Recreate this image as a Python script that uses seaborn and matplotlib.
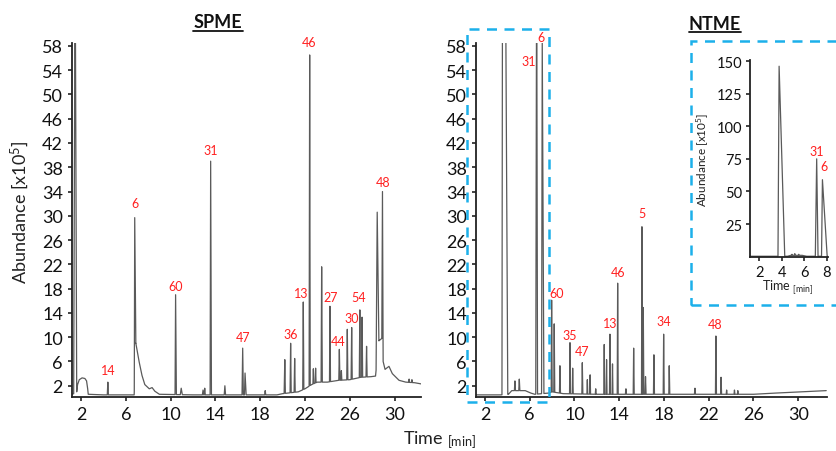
import numpy as np
import pandas as pd
import seaborn as sns
import matplotlib.pyplot as plt
from matplotlib.patches import Rectangle
from matplotlib.lines import Line2D

# ---- SPME chromatogram (time in min, abundance x10^5) ----
spme_base_t = [1.2, 1.35, 1.62, 1.7, 1.85, 2.1, 2.35, 2.5, 2.6, 2.65, 4.0, 6.75, 6.9, 7.2, 7.45,
               7.7, 8.1, 8.35, 8.6, 9.0, 12.0, 19.5, 20.0, 21.4, 22.0, 22.6, 23.1, 24.0, 25.0,
               26.0, 27.0, 27.9, 28.3, 28.6, 28.86, 28.98, 29.15, 29.5, 29.8, 30.4, 31.0, 31.8, 32.4]
spme_base_v = [0.6, 0.7, 1.0, 2.2, 3.0, 3.3, 3.2, 2.8, 1.5, 0.6, 0.5, 0.5, 9.0, 5.9, 3.7,
               2.2, 1.5, 1.7, 1.1, 0.6, 0.5, 0.5, 0.7, 1.0, 1.5, 2.2, 2.6, 2.6, 2.9,
               3.0, 3.4, 3.5, 3.6, 9.4, 9.8, 6.0, 4.7, 5.2, 4.0, 2.9, 2.6, 2.5, 2.3]
spme_peak_t = [1.48, 4.4, 6.8, 10.45, 10.95, 12.9, 13.05, 13.58, 14.85, 16.44, 16.65, 18.45,
               20.2, 20.72, 21.08, 21.85, 22.42, 22.75, 22.95, 23.49, 24.23, 25.07, 25.25,
               25.78, 26.17, 26.9, 27.1, 27.5, 28.45, 28.92, 31.3, 31.55]
spme_peak_h = [75.0, 2.6, 29.7, 17.0, 1.6, 1.3, 1.6, 39.0, 2.0, 8.2, 4.1, 1.2,
               6.3, 9.0, 6.5, 15.8, 56.5, 4.8, 4.9, 21.6, 15.1, 8.0, 4.5,
               11.3, 11.6, 14.5, 13.3, 8.5, 30.6, 34.0, 3.1, 3.0]
spme_peak_wl = [0.13, 0.05, 0.04, 0.05, 0.08, 0.06, 0.05, 0.05, 0.06, 0.06, 0.05, 0.05,
                0.06, 0.05, 0.05, 0.05, 0.05, 0.04, 0.04, 0.05, 0.04, 0.05, 0.04,
                0.05, 0.05, 0.05, 0.04, 0.05, 0.1, 0.06, 0.04, 0.04]
spme_peak_wr = [0.14, 0.05, 0.1, 0.07, 0.1, 0.06, 0.05, 0.07, 0.06, 0.06, 0.1, 0.05,
                0.05, 0.05, 0.05, 0.05, 0.05, 0.04, 0.04, 0.06, 0.05, 0.05, 0.04,
                0.05, 0.05, 0.04, 0.05, 0.05, 0.15, 0.06, 0.04, 0.04]
spme_lab = ['14', '6', '60', '31', '47', '36', '13', '46', '27', '44', '30', '54', '48']
spme_lab_t = [4.44, 6.82, 10.48, 13.6, 16.5, 20.75, 21.7, 22.36, 24.3, 25.0, 26.2, 26.8, 28.99]
spme_lab_v = [4.6, 32.1, 18.5, 40.8, 10.1, 10.5, 17.3, 58.6, 16.6, 9.4, 13.1, 16.6, 35.5]

# ---- NTME chromatogram ----
ntme_base_t = [1.2, 3.4, 4.1, 4.4, 5.6, 6.1, 6.45, 7.7, 8.0, 9.0, 12.0, 20.0, 26.0, 28.0, 32.5]
ntme_base_v = [0.5, 0.5, 0.6, 1.2, 1.2, 0.8, 0.6, 0.8, 1.0, 0.7, 0.6, 0.6, 0.6, 0.8, 1.2]
ntme_peak_t = [3.62, 4.68, 5.07, 6.62, 7.12, 7.96, 8.19, 8.7, 9.6, 9.84, 10.7, 11.15, 11.4,
               11.9, 12.66, 12.87, 13.17, 13.4, 13.86, 14.6, 15.29, 16.03, 16.15, 16.35,
               17.1, 17.97, 18.47, 20.77, 22.64, 23.1, 23.6, 24.3, 24.6]
ntme_peak_h = [146.0, 2.8, 3.1, 75.0, 59.0, 16.1, 12.2, 5.3, 9.1, 4.9, 5.8, 3.0, 3.8,
               1.5, 8.8, 6.3, 10.5, 5.6, 18.9, 1.5, 8.2, 28.2, 14.9, 3.5,
               7.1, 10.5, 5.3, 1.6, 10.2, 3.4, 1.3, 1.3, 1.2]
ntme_peak_wl = [0.1, 0.05, 0.05, 0.08, 0.06, 0.04, 0.04, 0.04, 0.04, 0.04, 0.04, 0.04, 0.04,
                0.04, 0.04, 0.04, 0.04, 0.04, 0.04, 0.05, 0.04, 0.04, 0.04, 0.04,
                0.04, 0.04, 0.04, 0.05, 0.04, 0.04, 0.04, 0.04, 0.04]
ntme_peak_wr = [0.42, 0.05, 0.05, 0.08, 0.15, 0.05, 0.05, 0.05, 0.04, 0.05, 0.05, 0.04, 0.04,
                0.04, 0.04, 0.04, 0.04, 0.04, 0.05, 0.05, 0.05, 0.04, 0.05, 0.05,
                0.05, 0.05, 0.05, 0.05, 0.05, 0.05, 0.04, 0.04, 0.04]
ntme_lab = ['31', '6', '60', '35', '47', '13', '46', '5', '34', '48']
ntme_lab_t = [5.87, 6.98, 8.4, 9.6, 10.7, 13.17, 13.9, 16.0, 18.0, 22.55]
ntme_lab_v = [55.5, 59.4, 17.3, 10.35, 7.8, 12.4, 20.7, 30.4, 12.7, 12.25]

# ---- NTME inset (0-8 min) ----
ins_base_t = [1.2, 4.5, 4.8, 5.8, 6.2, 8.12]
ins_base_v = [0.3, 0.3, 1.0, 1.0, 0.3, 0.3]
ins_peak_t = [3.76, 4.9, 5.15, 5.5, 7.09, 7.6]
ins_peak_h = [146.0, 1.8, 2.3, 1.8, 75.0, 59.0]
ins_peak_wl = [0.1, 0.05, 0.05, 0.05, 0.12, 0.08]
ins_peak_wr = [0.5, 0.05, 0.05, 0.05, 0.12, 0.42]
ins_lab = ['31', '6']
ins_lab_t = [7.09, 7.77]
ins_lab_v = [80.7, 69.2]


def trace(bt, bv, pt, ph, wl, wr):
    t, v = [], []
    spans = [(a - l, a + r) for a, l, r in zip(pt, wl, wr)]
    for x, y in zip(bt, bv):
        if not any(lo < x < hi for lo, hi in spans):
            t.append(x)
            v.append(y)
    for a, h, l, r in zip(pt, ph, wl, wr):
        for x in (a - l, a + r):
            t.append(x)
            v.append(float(np.interp(x, bt, bv)))
        t.append(a)
        v.append(h)
    return pd.DataFrame({'t': t, 'v': v}).sort_values('t')


sns.set_theme(style='ticks')
plt.rcParams['font.family'] = ['Lato', 'DejaVu Sans']
plt.rcParams['mathtext.fontset'] = 'custom'
plt.rcParams['mathtext.rm'] = 'Lato'
plt.rcParams['mathtext.it'] = 'Lato:italic'
plt.rcParams['mathtext.bf'] = 'Lato:bold'

W, H = 836, 452
fig = plt.figure(figsize=(W / 100, H / 100), dpi=100)
fig.patch.set_facecolor('white')

line_c = '#5a5a5a'
red = '#ff2020'
blue = '#1cb0ea'


def style(ax, fs):
    sns.despine(ax=ax)
    for s in ('left', 'bottom'):
        ax.spines[s].set_linewidth(1.3)
        ax.spines[s].set_color('#222222')
    ax.tick_params(direction='out', length=3, width=1.2, pad=3.5, labelsize=fs,
                   colors='#222222', labelcolor='#111111')
    ax.set_xlabel('')
    ax.set_ylabel('')
    ax.set_facecolor('white')


ax1 = fig.add_axes([72 / W, 1 - 397.7 / H, 349 / W, 353.7 / H])
ax2 = fig.add_axes([476 / W, 1 - 397.7 / H, 351 / W, 353.7 / H])

for ax, d, labs, lt, lv, xr in [
        (ax1, trace(spme_base_t, spme_base_v, spme_peak_t, spme_peak_h, spme_peak_wl, spme_peak_wr),
         spme_lab, spme_lab_t, spme_lab_v, (1.2, 32.36)),
        (ax2, trace(ntme_base_t, ntme_base_v, ntme_peak_t, ntme_peak_h, ntme_peak_wl, ntme_peak_wr),
         ntme_lab, ntme_lab_t, ntme_lab_v, (1.2, 32.57))]:
    sns.lineplot(data=d, x='t', y='v', ax=ax, color=line_c, linewidth=0.9,
                 estimator=None, sort=False)
    ax.set_xlim(*xr)
    ax.set_ylim(0.2, 58.47)
    ax.set_xticks(range(2, 31, 4))
    ax.set_yticks(range(2, 59, 4))
    style(ax, 13)
    for s, x, y in zip(labs, lt, lv):
        ax.text(x, y, s, color=red, fontsize=9, ha='center', va='center', clip_on=False)

# inset
ax3 = fig.add_axes([750 / W, 1 - 258.3 / H, 78.3 / W, 197.6 / H])
d3 = trace(ins_base_t, ins_base_v, ins_peak_t, ins_peak_h, ins_peak_wl, ins_peak_wr)
sns.lineplot(data=d3, x='t', y='v', ax=ax3, color=line_c, linewidth=0.9,
             estimator=None, sort=False)
ax3.set_xlim(1.18, 8.12)
ax3.set_ylim(-0.5, 151)
ax3.set_xticks([2, 4, 6, 8])
ax3.set_yticks([25, 50, 75, 100, 125, 150])
style(ax3, 10.5)
ax3.tick_params(pad=2.5)
for s, x, y in zip(ins_lab, ins_lab_t, ins_lab_v):
    ax3.text(x, y, s, color=red, fontsize=9, ha='center', va='center', clip_on=False)
fig.text(703 / W, 1 - 160 / H, r'Abundance [x10$^5$]', rotation=90, fontsize=8.5,
         ha='center', va='center', color='#222222')
fig.text(788 / W, 1 - 288 / H, r'Time $_{\mathrm{[min]}}$', fontsize=9,
         ha='center', va='center', color='#222222')

# titles with underline
for txt, cx, cy, x0, x1, uy in [('SPME', 218, 23, 193, 243, 32),
                                ('NTME', 715, 24, 689, 741, 33)]:
    fig.text(cx / W, 1 - cy / H, txt, fontsize=13, fontweight='bold',
             ha='center', va='center', color='#111111')
    fig.add_artist(Line2D([x0 / W, x1 / W], [1 - uy / H, 1 - uy / H],
                          color='#111111', linewidth=1.3))

fig.text(20 / W, 1 - 212 / H, r'Abundance [x10$^5$]', rotation=90, fontsize=13,
         ha='center', va='center', color='#222222')
fig.text(440 / W, 1 - 440 / H, r'Time $_{\mathrm{[min]}}$', fontsize=13,
         ha='center', va='center', color='#222222')

# dashed highlight boxes
for x0, y0, x1, y1 in [(466.7, 30, 549, 402.7), (691, 41.7, 850, 305.7)]:
    fig.add_artist(Rectangle((x0 / W, 1 - y1 / H), (x1 - x0) / W, (y1 - y0) / H,
                             fill=False, edgecolor=blue, linewidth=1.8,
                             linestyle=(0, (4, 3)), zorder=10))

fig.savefig('out.png', dpi=100)
